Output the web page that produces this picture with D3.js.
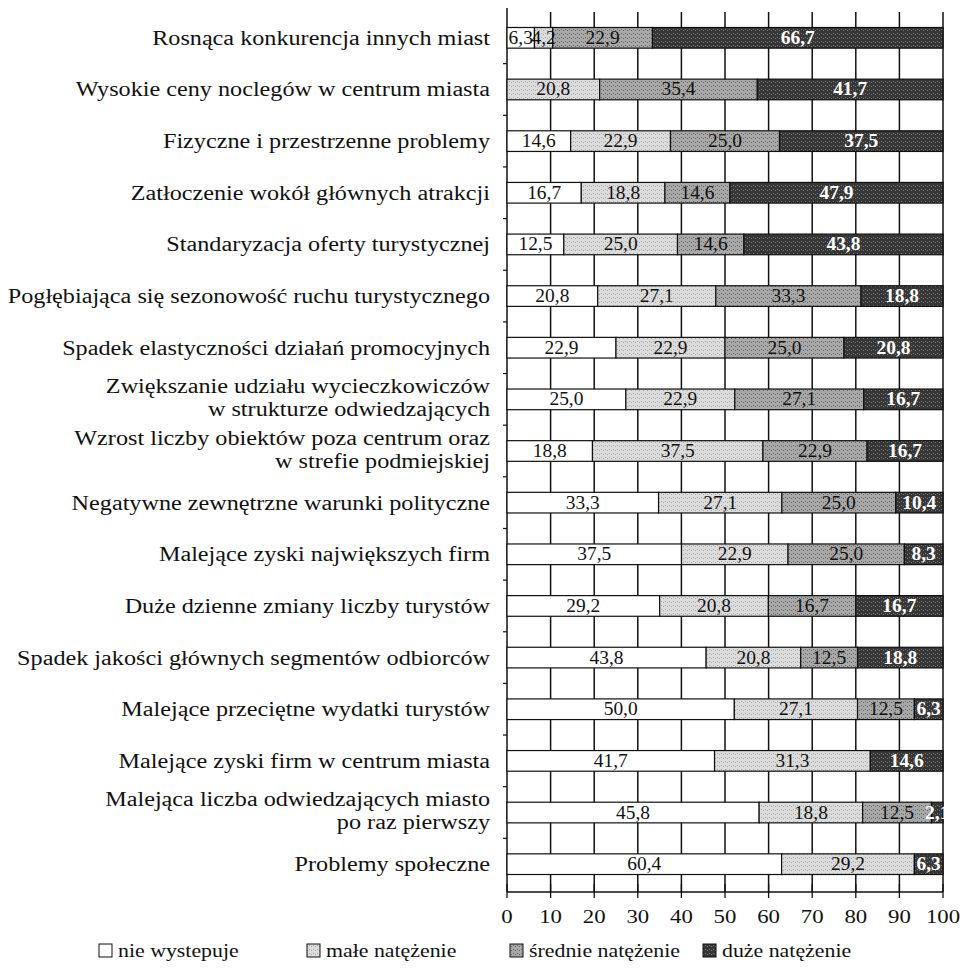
<!DOCTYPE html>
<html><head><meta charset="utf-8">
<script src="https://cdn.jsdelivr.net/npm/d3@7"></script>
<style>body{margin:0;background:#fff;} svg{display:block;}</style>
</head><body>
<script>
const categories = [
  "Rosnąca konkurencja innych miast",
  "Wysokie ceny noclegów w centrum miasta",
  "Fizyczne i przestrzenne problemy",
  "Zatłoczenie wokół głównych atrakcji",
  "Standaryzacja oferty turystycznej",
  "Pogłębiająca się sezonowość ruchu turystycznego",
  "Spadek elastyczności działań promocyjnych",
  "Zwiększanie udziału wycieczkowiczów\nw strukturze odwiedzających",
  "Wzrost liczby obiektów poza centrum oraz\nw strefie podmiejskiej",
  "Negatywne zewnętrzne warunki polityczne",
  "Malejące zyski największych firm",
  "Duże dzienne zmiany liczby turystów",
  "Spadek jakości głównych segmentów odbiorców",
  "Malejące przeciętne wydatki turystów",
  "Malejące zyski firm w centrum miasta",
  "Malejąca liczba odwiedzających miasto\npo raz pierwszy",
  "Problemy społeczne"
];
const nieWystepuje     = [6.3, 0, 14.6, 16.7, 12.5, 20.8, 22.9, 25.0, 18.8, 33.3, 37.5, 29.2, 43.8, 50.0, 41.7, 45.8, 60.4];
const maleNatezenie    = [4.2, 20.8, 22.9, 18.8, 25.0, 27.1, 22.9, 22.9, 37.5, 27.1, 22.9, 20.8, 20.8, 27.1, 31.3, 18.8, 29.2];
const srednieNatezenie = [22.9, 35.4, 25.0, 14.6, 14.6, 33.3, 25.0, 27.1, 22.9, 25.0, 25.0, 16.7, 12.5, 12.5, 0, 12.5, 0];
const duzeNatezenie    = [66.7, 41.7, 37.5, 47.9, 43.8, 18.8, 20.8, 16.7, 16.7, 10.4, 8.3, 16.7, 18.8, 6.3, 14.6, 2.1, 6.3];
const seriesNames = ["nie wystepuje", "małe natężenie", "średnie natężenie", "duże natężenie"];
const xTicks = [0, 10, 20, 30, 40, 50, 60, 70, 80, 90, 100];

const W = 962, H = 972;
const svg = d3.select("body").append("svg").attr("width", W).attr("height", H);
const FONT = "'Liberation Serif', 'Times New Roman', serif";

const keys = ["nie", "male", "srednie", "duze"];
const rows = categories.map((c, i) => ({cat: c, nie: nieWystepuje[i], male: maleNatezenie[i], srednie: srednieNatezenie[i], duze: duzeNatezenie[i]}));
const stacked = d3.stack().keys(keys).offset(d3.stackOffsetExpand)(rows);

const x = d3.scaleLinear().domain([0, 1]).range([507, 943]);
const xAxisScale = d3.scaleLinear().domain([0, 100]).range([507, 943]);
const y = d3.scaleBand().domain(categories).range([12, 890]).paddingInner(0.6).paddingOuter(0.3);
const yOuter = d3.scaleBand().domain(categories).range([12, 890]);

const fills = {nie: "#ffffff", male: "#dcdcdc", srednie: "#a8a8a8", duze: "#363636"};
const textCol = {nie: "#111", male: "#111", srednie: "#111", duze: "#fff"};

// texture patterns
const defs = svg.append("defs");
function pattern(id, base, dot, op) {
  const p = defs.append("pattern").attr("id", id).attr("width", 4).attr("height", 4).attr("patternUnits", "userSpaceOnUse");
  p.append("rect").attr("width", 4).attr("height", 4).attr("fill", base);
  p.append("rect").attr("x", 1).attr("y", 1).attr("width", 1).attr("height", 1).attr("fill", dot).attr("opacity", op);
  p.append("rect").attr("x", 3).attr("y", 2).attr("width", 1).attr("height", 1).attr("fill", dot).attr("opacity", op);
  return "url(#" + id + ")";
}
const patFill = {
  nie: "#ffffff",
  male: pattern("pMale", fills.male, "#9a9a9a", 0.8),
  srednie: pattern("pSred", fills.srednie, "#555", 0.8),
  duze: pattern("pDuze", fills.duze, "#8a8a8a", 0.8)
};

// horizontally stretched text helper (reference is a scanned, widened serif)
function sText(parent, xPos, yPos, sx, size) {
  return parent.append("g").attr("transform", `translate(${xPos},${yPos}) scale(${sx},1)`)
    .append("text").attr("x", 0).attr("y", 0)
    .style("font-family", FONT).attr("font-size", size).attr("fill", "#111");
}

// vertical grid lines
svg.append("g").selectAll("line").data(xTicks.slice(1)).join("line")
  .attr("x1", d => xAxisScale(d)).attr("x2", d => xAxisScale(d))
  .attr("y1", 12).attr("y2", 892)
  .attr("stroke", "#111").attr("stroke-width", 1.5);

// left axis
svg.append("line").attr("x1", 507).attr("x2", 507).attr("y1", 8).attr("y2", 892)
  .attr("stroke", "#111").attr("stroke-width", 1.5);
svg.append("g").selectAll("line").data(categories.slice(1)).join("line")
  .attr("x1", 503).attr("x2", 507)
  .attr("y1", d => yOuter(d)).attr("y2", d => yOuter(d))
  .attr("stroke", "#111").attr("stroke-width", 1.2);

// bars
const gBars = svg.append("g");
stacked.forEach(s => {
  const k = s.key;
  gBars.append("g").selectAll("rect").data(s.filter(d => d[1] - d[0] > 0)).join("rect")
    .attr("x", d => x(d[0])).attr("width", d => x(d[1]) - x(d[0]))
    .attr("y", d => y(d.data.cat)).attr("height", y.bandwidth())
    .attr("fill", patFill[k]).attr("stroke", "#111").attr("stroke-width", 1.2);
});
stacked.forEach(s => {
  const k = s.key;
  s.filter(d => d[1] - d[0] > 0).forEach(d => {
    sText(gBars, (x(d[0]) + x(d[1])) / 2, y(d.data.cat) + y.bandwidth() / 2 + 6, 1.08, 18)
      .attr("text-anchor", "middle").attr("fill", textCol[k])
      .attr("font-weight", k === "duze" ? "bold" : "normal")
      .text(d3.format(".1f")(d.data[k]).replace(".", ","));
  });
});

// category labels
const gLab = svg.append("g");
categories.forEach(c => {
  const lines = c.split("\n");
  const cy = y(c) + y.bandwidth() / 2;
  const lh = 23;
  lines.forEach((l, j) => {
    sText(gLab, 490, cy + 7 + (j - (lines.length - 1) / 2) * lh - (lines.length > 1 ? 2 : 0), 1.21, 20)
      .attr("text-anchor", "end").text(l);
  });
});

// bottom axis
svg.append("line").attr("x1", 507).attr("x2", 943).attr("y1", 892).attr("y2", 892)
  .attr("stroke", "#111").attr("stroke-width", 1.3);
svg.append("g").selectAll("line").data(xTicks).join("line")
  .attr("x1", d => xAxisScale(d)).attr("x2", d => xAxisScale(d))
  .attr("y1", 884).attr("y2", 898).attr("stroke", "#111").attr("stroke-width", 1.3);
const gTick = svg.append("g");
xTicks.forEach(t => {
  sText(gTick, xAxisScale(t), 923, 1.2, 19).attr("text-anchor", "middle").text(t);
});

// legend
const legendX = [99, 307, 510, 703];
const lg = svg.append("g");
seriesNames.forEach((n, i) => {
  lg.append("rect").attr("x", legendX[i]).attr("y", 944).attr("width", 13).attr("height", 13)
    .attr("fill", patFill[keys[i]]).attr("stroke", "#111").attr("stroke-width", 1);
  sText(lg, legendX[i] + 19, 957, 1.15, 19).text(n);
});
</script>
</body></html>
